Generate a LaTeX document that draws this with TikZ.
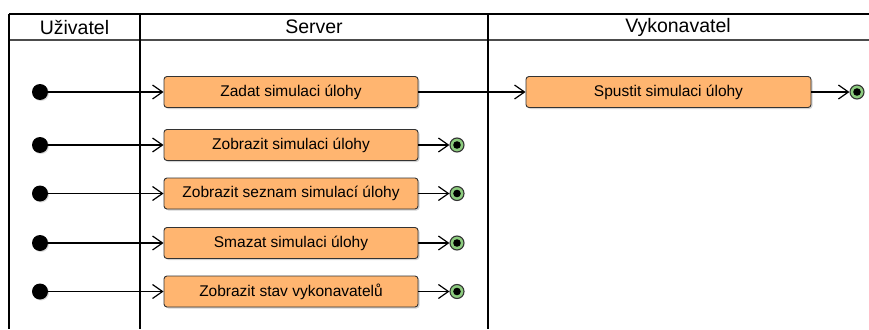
\documentclass[tikz,border=0pt]{standalone}
\usepackage{fontspec}
\setmainfont{Liberation Sans}
\usetikzlibrary{arrows.meta,shadows}
\definecolor{boxfill}{HTML}{FFB570}
\definecolor{endfill}{HTML}{8CCB7E}
\tikzset{
  act/.style={draw=black!80, line width=0.9pt, fill=boxfill, rounded corners=3pt, minimum width=254pt, minimum height=31pt, inner sep=0pt, font=\fontsize{15.5}{18}\selectfont, drop shadow={shadow xshift=1.5pt, shadow yshift=-1.5pt, opacity=0.35}},
  startdot/.style={circle, fill=black, minimum size=16pt, inner sep=0pt, drop shadow={shadow xshift=1pt, shadow yshift=-1pt, opacity=0.3}},
  enddot/.style={circle, draw=black!80, fill=endfill, minimum size=14pt, inner sep=0pt, line width=1.1pt, path picture={\fill[black] (path picture bounding box.center) circle (3.8pt);}},
  flow/.style={line width=1.2pt, -{Straight Barb[length=10pt,width=14pt]}},
  lane/.style={line width=1.1pt},
  hdr/.style={font=\fontsize{19.5}{22}\selectfont}
}
\begin{document}
\begin{tikzpicture}[x=1pt,y=-1pt]
\useasboundingbox (0,0) rectangle (869,329);
% swimlanes
\draw[lane] (9,14) -- (869,14);
\draw[lane, black!70] (9,40) -- (869,40);
\draw[lane] (9,14) -- (9,329);
\draw[lane] (140,14) -- (140,329);
\draw[lane] (488,14) -- (488,329);
\node[hdr] (h1) at (74.5,27) {Uživatel};
\node[hdr] (h2) at (314,27) {Server};
\node[hdr] (h3) at (678,27) {Vykonavatel};
% activities
\node[act] (a1) at (291,92) {Zadat simulaci úlohy};
\node[act] (a2) at (291,145) {Zobrazit simulaci úlohy};
\node[act] (a3) at (291,193.5) {Zobrazit seznam simulací úlohy};
\node[act] (a4) at (291,243) {Smazat simulaci úlohy};
\node[act] (a5) at (291,291.5) {Zobrazit stav vykonavatelů};
\node[act, minimum width=285pt] (b1) at (668.5,92) {Spustit simulaci úlohy};
% start nodes
\node[startdot] (s1) at (40,92) {};
\node[startdot] (s2) at (40,145) {};
\node[startdot] (s3) at (40,193.5) {};
\node[startdot] (s4) at (40,243) {};
\node[startdot] (s5) at (40,291.5) {};
% end nodes
\node[enddot] (e1) at (857,92) {};
\node[enddot] (e2) at (457,145) {};
\node[enddot] (e3) at (457,193.5) {};
\node[enddot] (e4) at (457,243) {};
\node[enddot] (e5) at (457,291.5) {};
% flows
\draw[flow] (s1) -- (a1);
\draw[flow] (a1) -- (b1);
\draw[flow] (b1) -- (e1);
\draw[flow] (s2) -- (a2);
\draw[flow] (a2) -- (e2);
\draw[flow] (s3) -- (a3);
\draw[flow] (a3) -- (e3);
\draw[flow] (s4) -- (a4);
\draw[flow] (a4) -- (e4);
\draw[flow] (s5) -- (a5);
\draw[flow] (a5) -- (e5);
\end{tikzpicture}
\end{document}
